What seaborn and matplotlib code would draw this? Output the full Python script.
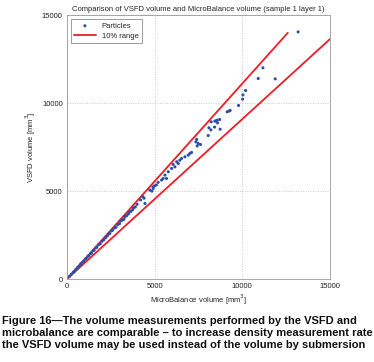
import numpy as np
import pandas as pd
import matplotlib
matplotlib.use("Agg")
import matplotlib.pyplot as plt
import seaborn as sns

# --- DATA ---
mb_vol = [150, 250, 350, 420, 500, 600, 650, 750, 800, 900, 950, 1050, 1100, 1200,
          1250, 1350, 1400, 1500, 1550, 1650, 1700, 1800, 1900, 2000, 2100, 2200,
          2300, 2350, 2450, 2550, 2600, 2700, 2800, 2900, 3000, 3050, 3150, 3250,
          3300, 3400, 3500, 3550, 3650, 3750, 3800, 3900, 4000, 4200, 4330, 4400,
          4450, 4730, 4850, 4910, 4920, 5000, 5100, 5200, 5400, 5490, 5590, 5680,
          5780, 5970, 6060, 6160, 6260, 6350, 6440, 6540, 6730, 6920, 7015, 7110,
          7360, 7400, 7430, 7490, 7620, 8060, 8100, 8210, 8230, 8420, 8440, 8500,
          8570, 8590, 8710, 8740, 9140, 9260, 9310, 9790, 10020, 10040, 10190,
          10910, 11180, 11880, 13190]
vsfd_vol = [160, 270, 380, 440, 540, 650, 690, 800, 880, 960, 1010, 1130, 1180, 1300,
            1330, 1450, 1480, 1620, 1640, 1780, 1800, 1950, 2000, 2150, 2230, 2350,
            2450, 2550, 2600, 2750, 2780, 2900, 2950, 3100, 3150, 3300, 3350, 3400,
            3550, 3600, 3700, 3800, 3850, 3950, 4050, 4100, 4250, 4500, 4680, 4600,
            4300, 5060, 5000, 5240, 5150, 5300, 5350, 5500, 5630, 5720, 5910, 5720,
            6100, 6290, 6520, 6380, 6670, 6570, 6760, 6860, 6950, 7045, 7140, 7200,
            7800, 7940, 7570, 7710, 7650, 8160, 8600, 8480, 8940, 8640, 8980, 8990,
            9030, 8880, 9070, 8520, 9510, 9550, 9590, 9870, 10230, 10470, 10720,
            11400, 12010, 11380, 14050]

range_vsfd = [0, 14000]   # VSFD volume span of the +-10% lines
range_factors = [0.9, 1.1]

df = pd.DataFrame({"mb": mb_vol, "vsfd": vsfd_vol})

sns.set_style("white")
plt.rcParams["font.family"] = ["Liberation Sans", "DejaVu Sans"]

fig = plt.figure(figsize=(3.74, 3.62), dpi=100)
ax = fig.add_axes([0.179, 0.229, 0.703, 0.729])

sns.scatterplot(data=df, x="mb", y="vsfd", ax=ax, marker=".", s=20,
                color="#2b4fa8", edgecolor="none", label="Particles", zorder=3)

rojo = "#ee1c25"
for i, f in enumerate(range_factors):
    sns.lineplot(x=[v * f for v in range_vsfd], y=range_vsfd, ax=ax, color=rojo,
                 linewidth=1.3, label="10% range" if i == 0 else None,
                 sort=False, zorder=2)

ax.set_xlim(0, 15000)
ax.set_ylim(0, 15000)
ticks = [0, 5000, 10000, 15000]
ax.set_xticks(ticks)
ax.set_yticks(ticks)
ax.tick_params(labelsize=5.5, direction="in", length=2, colors="#444444",
               labelcolor="#222222", pad=3)
ax.grid(True, linestyle=(0, (1.5, 2)), color="#bbbbbb", linewidth=0.5)
for s in ax.spines.values():
    s.set_color("#999999")
    s.set_linewidth(0.6)

ax.set_xlabel("MicroBalance volume [mm$^3$]", fontsize=5.5, labelpad=2)
ax.set_ylabel("VSFD volume [mm$^3$]", fontsize=5.5, labelpad=3)
ax.set_title("Comparison of VSFD volume and MicroBalance volume (sample 1 layer 1)",
             fontsize=5.5, pad=3)

leg = ax.legend(loc="upper left", fontsize=5.5, frameon=True, fancybox=False,
                edgecolor="#555555", borderpad=0.45, handlelength=2.8,
                labelspacing=0.35, markerscale=1.0)
leg.get_frame().set_linewidth(0.5)

caption = ("Figure 16\u2014The volume measurements performed by the VSFD and\n"
           "microbalance are comparable \u2013 to increase density measurement rate\n"
           "the VSFD volume may be used instead of the volume by submersion")
fig.text(0.005, 0.128, caption, fontsize=8.0, fontweight="bold", va="top",
         ha="left", linespacing=1.28, color="#111111")

fig.savefig("out.png", dpi=100)
